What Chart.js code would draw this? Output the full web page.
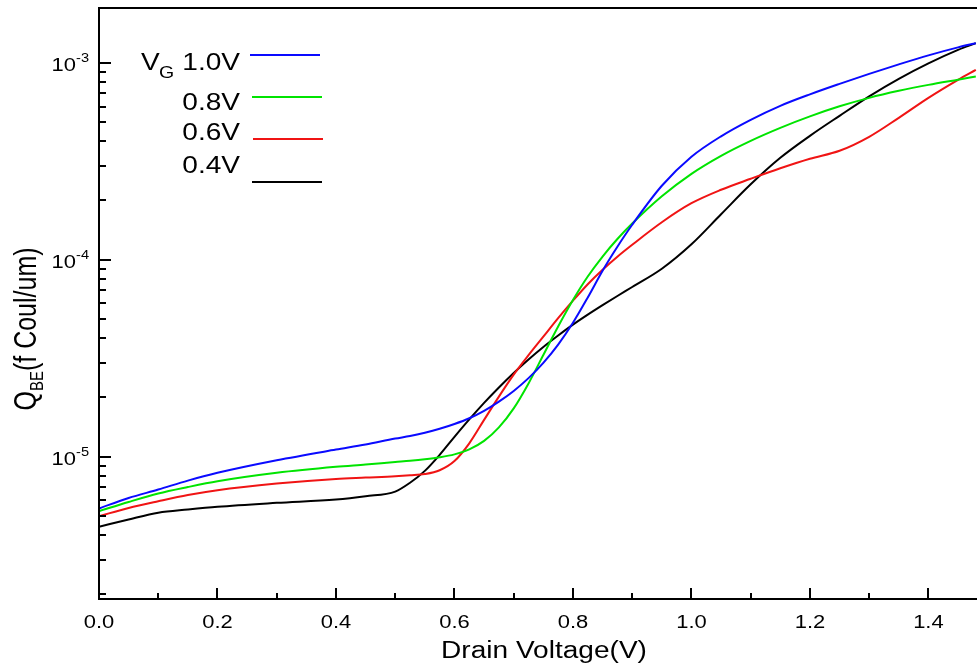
<!DOCTYPE html>
<html>
<head>
<meta charset="utf-8">
<script src="https://cdn.jsdelivr.net/npm/chart.js@4/dist/chart.umd.min.js"></script>
<style>
  html, body { margin: 0; padding: 0; background: #ffffff; }
  #wrap { width: 977px; height: 668px; position: relative; }
</style>
</head>
<body>
<div id="wrap"><canvas id="c"></canvas></div>
<script>
// ---- data ----
const voltage = [0, 0.05, 0.1, 0.15, 0.2, 0.3, 0.4, 0.45, 0.5, 0.525, 0.55, 0.575, 0.6, 0.625, 0.65, 0.675, 0.7, 0.725, 0.75, 0.775, 0.8, 0.825, 0.85, 0.875, 0.9, 0.95, 1.0, 1.05, 1.1, 1.15, 1.2, 1.25, 1.3, 1.35, 1.4, 1.45, 1.48];

const qbeVg10 = [5.45e-6, 6.16e-6, 6.80e-6, 7.55e-6, 8.27e-6, 9.58e-6, 1.085e-5, 1.151e-5,
  1.234e-5, 1.271e-5, 1.321e-5, 1.384e-5, 1.464e-5, 1.566e-5, 1.708e-5, 1.902e-5, 2.155e-5, 2.503e-5, 2.993e-5, 3.707e-5, 4.783e-5, 6.429e-5, 8.795e-5, 1.164e-4, 1.505e-4,
  2.375e-4, 3.334e-4, 4.236e-4, 5.136e-4, 6.050e-4, 6.920e-4, 7.822e-4, 8.795e-4, 9.827e-4, 1.092e-3, 1.199e-3, 1.259e-3];

const qbeVg08 = [5.28e-6, 5.88e-6, 6.49e-6, 7.00e-6, 7.49e-6, 8.27e-6, 8.87e-6, 9.11e-6,
  9.38e-6, 9.51e-6, 9.68e-6, 9.91e-6, 1.026e-5, 1.088e-5, 1.201e-5, 1.407e-5, 1.757e-5, 2.353e-5, 3.283e-5, 4.580e-5, 6.243e-5, 8.217e-5, 1.038e-4, 1.274e-4, 1.527e-4,
  2.100e-4, 2.732e-4, 3.373e-4, 4.019e-4, 4.679e-4, 5.35e-4, 6.016e-4, 6.642e-4, 7.209e-4, 7.731e-4, 8.217e-4, 8.52e-4];

const qbeVg06 = [4.98e-6, 5.48e-6, 5.93e-6, 6.38e-6, 6.75e-6, 7.29e-6, 7.70e-6, 7.82e-6,
  7.94e-6, 8.03e-6, 8.15e-6, 8.52e-6, 9.49e-6, 1.168e-5, 1.536e-5, 2.017e-5, 2.607e-5, 3.275e-5, 4.065e-5, 5.047e-5, 6.192e-5, 7.510e-5, 8.897e-5, 1.036e-4, 1.191e-4,
  1.550e-4, 1.936e-4, 2.266e-4, 2.577e-4, 2.914e-4, 3.257e-4, 3.575e-4, 4.211e-4, 5.258e-4, 6.642e-4, 8.20e-4, 9.21e-4];

const qbeVg04 = [4.40e-6, 4.79e-6, 5.18e-6, 5.38e-6, 5.56e-6, 5.82e-6, 6.05e-6, 6.29e-6,
  6.64e-6, 7.36e-6, 8.46e-6, 1.020e-5, 1.259e-5, 1.544e-5, 1.874e-5, 2.245e-5, 2.660e-5, 3.114e-5, 3.605e-5, 4.123e-5, 4.679e-5, 5.258e-5, 5.875e-5, 6.542e-5, 7.269e-5,
  9.00e-5, 1.198e-4, 1.702e-4, 2.416e-4, 3.295e-4, 4.260e-4, 5.383e-4, 6.761e-4, 8.295e-4, 9.94e-4, 1.164e-3, 1.259e-3];

const seriesNames = ['1.0V', '0.8V', '0.6V', '0.4V'];
const xTickValues = [0, 0.2, 0.4, 0.6, 0.8, 1.0, 1.2, 1.4];
const xTickLabels = ['0.0', '0.2', '0.4', '0.6', '0.8', '1.0', '1.2', '1.4'];
const xMinorValues = [0.1, 0.3, 0.5, 0.7, 0.9, 1.1, 1.3];
const yDecadeExponents = [-6, -5, -4, -3];
const yLabelExponents = [-5, -4, -3];
const xTitle = 'Drain Voltage(V)';
const yTitleMain = 'Q';
const yTitleSub = 'BE';
const yTitleRest = '(f Coul/um)';
const legendPrefix = 'V';
const legendPrefixSub = 'G';

// ---- styling ----
const colors = ['#0a0aff', '#00e400', '#f01414', '#000000'];
const FONT = '"Liberation Sans", Arial, sans-serif';
const SX = 1.22; // horizontal stretch of the reference text

const toXY = arr => voltage.map((v, i) => ({ x: v, y: arr[i] }));
const allSeries = [qbeVg10, qbeVg08, qbeVg06, qbeVg04];

function sText(ctx, text, x, y, size, align, sx) {
  ctx.save();
  ctx.translate(x, y);
  ctx.scale(sx, 1);
  ctx.font = size + 'px ' + FONT;
  ctx.textAlign = align;
  ctx.textBaseline = 'alphabetic';
  ctx.fillStyle = '#000';
  ctx.fillText(text, 0, 0);
  ctx.restore();
}

const framePlugin = {
  id: 'frame',
  afterDraw(chart) {
    const ctx = chart.ctx;
    const xs = chart.scales.x, ys = chart.scales.y;
    const a = chart.chartArea;
    ctx.save();
    ctx.strokeStyle = '#000';
    ctx.lineWidth = 2;
    ctx.lineCap = 'butt';
    // axis lines: left, bottom, top
    ctx.beginPath();
    ctx.moveTo(a.left, a.top - 1); ctx.lineTo(a.left, a.bottom + 1);
    ctx.moveTo(a.left - 1, a.bottom); ctx.lineTo(a.right, a.bottom);
    ctx.moveTo(a.left - 1, a.top); ctx.lineTo(a.right, a.top);
    ctx.stroke();

    // x ticks (inward)
    ctx.beginPath();
    xTickValues.forEach(v => {
      const px = Math.round(xs.getPixelForValue(v));
      ctx.moveTo(px, a.bottom); ctx.lineTo(px, a.bottom - 11);
    });
    xMinorValues.forEach(v => {
      const px = Math.round(xs.getPixelForValue(v));
      ctx.moveTo(px, a.bottom); ctx.lineTo(px, a.bottom - 6);
    });
    // y ticks (inward)
    yDecadeExponents.forEach(e => {
      for (let m = 1; m <= 9; m++) {
        const v = m * Math.pow(10, e);
        if (v < ys.min || v > ys.max) continue;
        const py = Math.round(ys.getPixelForValue(v));
        ctx.moveTo(a.left, py); ctx.lineTo(a.left + (m === 1 ? 12 : 7), py);
      }
    });
    ctx.stroke();

    // x tick labels
    xTickValues.forEach((v, i) => {
      const px = xs.getPixelForValue(v);
      sText(ctx, xTickLabels[i], px, 628, 18, 'center', SX);
    });
    // y tick labels (10^n)
    yLabelExponents.forEach(e => {
      const py = ys.getPixelForValue(Math.pow(10, e));
      sText(ctx, '10', 76, py + 8.5, 18, 'right', SX);
      sText(ctx, String(e), 76, py - 1, 12, 'left', SX);
    });

    // x title
    sText(ctx, xTitle, 544, 658, 23, 'center', SX);

    // y title (rotated)
    ctx.save();
    ctx.translate(36, 329);
    ctx.rotate(-Math.PI / 2);
    ctx.scale(1, SX);
    ctx.fillStyle = '#000';
    ctx.textBaseline = 'alphabetic';
    ctx.textAlign = 'left';
    const big = '25px ' + FONT, small = '15px ' + FONT;
    ctx.font = big; const w1 = ctx.measureText(yTitleMain).width;
    ctx.font = small; const w2 = ctx.measureText(yTitleSub).width;
    ctx.font = big; const w3 = ctx.measureText(yTitleRest).width;
    let x0 = -(w1 + w2 + w3) / 2;
    ctx.font = big; ctx.fillText(yTitleMain, x0, 0); x0 += w1;
    ctx.font = small; ctx.fillText(yTitleSub, x0, 6); x0 += w2;
    ctx.font = big; ctx.fillText(yTitleRest, x0, 0);
    ctx.restore();

    // legend
    const legendTextBase = [70, 110, 140, 173];
    const legendLineY = [55, 97, 139, 182];
    const legendLineX = [[250, 320], [252, 322], [253, 323], [252, 322]];
    sText(ctx, legendPrefix, 141, 70, 23, 'left', SX);
    sText(ctx, legendPrefixSub, 159, 78, 16, 'left', SX);
    seriesNames.forEach((name, i) => {
      sText(ctx, name, 240, legendTextBase[i], 23, 'right', SX);
      ctx.strokeStyle = colors[i];
      ctx.lineWidth = 2;
      ctx.beginPath();
      ctx.moveTo(legendLineX[i][0], legendLineY[i]);
      ctx.lineTo(legendLineX[i][1], legendLineY[i]);
      ctx.stroke();
    });
    ctx.restore();
  }
};

new Chart(document.getElementById('c'), {
  type: 'line',
  data: {
    datasets: allSeries.map((s, i) => ({
      label: seriesNames[i],
      data: toXY(s),
      borderColor: colors[i],
      backgroundColor: colors[i],
      borderWidth: 2,
      pointRadius: 0,
      fill: false,
      cubicInterpolationMode: 'monotone'
    }))
  },
  options: {
    responsive: true,
    maintainAspectRatio: false,
    animation: false,
    layout: { padding: { left: 99, top: 8, right: 0, bottom: 69 } },
    plugins: { legend: { display: false }, tooltip: { enabled: false } },
    scales: {
      x: { type: 'linear', min: 0, max: 1.482, display: false },
      y: { type: 'logarithmic', min: 1.89e-6, max: 1.9e-3, display: false }
    }
  },
  plugins: [framePlugin]
});
</script>
</body>
</html>
